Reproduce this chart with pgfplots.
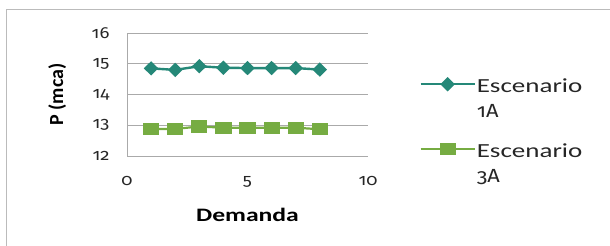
\documentclass[border=0pt]{standalone}
\usepackage{fontspec}
\setmainfont{Carlito}[FakeStretch=1.35]
\newfontfamily\plainfont{Carlito}
\newfontfamily\osf{Fira Sans}[Numbers=OldStyle, FakeStretch=1.15]
\usepackage{pgfplots}
\pgfplotsset{compat=1.18}
\definecolor{teal1}{RGB}{37,136,120}
\definecolor{green1}{RGB}{118,172,66}
\definecolor{gridg}{RGB}{170,170,170}
\begin{document}
\begin{tikzpicture}
\useasboundingbox (0,0) rectangle (610pt,246pt);
\draw[gridg!80, line width=1pt] (6pt,-5pt) -- (6pt,236pt) -- (615pt,236pt);
\begin{axis}[
  at={(127pt,90pt)}, anchor=south west,
  scale only axis, width=241pt, height=123pt,
  xmin=0, xmax=10, ymin=12, ymax=16,
  xtick={0,5,10}, ytick={12,13,14,15,16},
  /pgf/number format/assume math mode=true,
  major tick length=0pt,
  axis x line*=bottom, axis y line*=left,
  x axis line style={draw=none},
  y axis line style={draw=gridg, line width=0.8pt},
  ymajorgrids, grid style={gridg, line width=0.8pt},
  tick label style={font=\osf\fontsize{16}{18}\selectfont, text=black!85},
  xticklabel style={yshift=-17pt},
  yticklabel style={xshift=-14pt},
  xlabel={\bfseries Demanda},
  xlabel style={at={(axis description cs:0.5,-0.48)}, anchor=center, font=\fontsize{19}{22}\selectfont},
  ylabel={\plainfont\bfseries P (mca)},
  ylabel style={at={(axis description cs:-0.29,0.5)}, anchor=center, rotate=0, font=\fontsize{20}{22}\selectfont},
  legend style={at={(axis description cs:1.20,0.695)}, anchor=north west, draw=none, fill=none,
    font=\fontsize{20}{25}\selectfont, row sep=42pt,
    nodes={text=black!85, inner xsep=1pt}},
  legend cell align=left,
  legend image code/.code={\draw[mark repeat=2,mark phase=2,#1] plot coordinates {(0pt,0pt)(27pt,0pt)(54pt,0pt)};},
]
\addplot[teal1, line width=2.4pt, mark=diamond*, mark size=5.5pt, mark options={xscale=1.35, solid}] coordinates {
(1,14.85)(2,14.80)(3,14.92)(4,14.87)(5,14.86)(6,14.86)(7,14.86)(8,14.81)};
\addlegendentry{\begin{tabular}[t]{@{}l@{}}Escenario\\{\osf\fontsize{19}{22}\selectfont 1A}\end{tabular}}
\addplot[green1, line width=2.2pt, mark=square*, mark size=5pt, mark options={xscale=1.4, solid}] coordinates {
(1,12.88)(2,12.88)(3,12.96)(4,12.92)(5,12.92)(6,12.92)(7,12.92)(8,12.87)};
\addlegendentry{\begin{tabular}[t]{@{}l@{}}Escenario\\{\osf\fontsize{19}{22}\selectfont 3A}\end{tabular}}
\end{axis}
\end{tikzpicture}
\end{document}
